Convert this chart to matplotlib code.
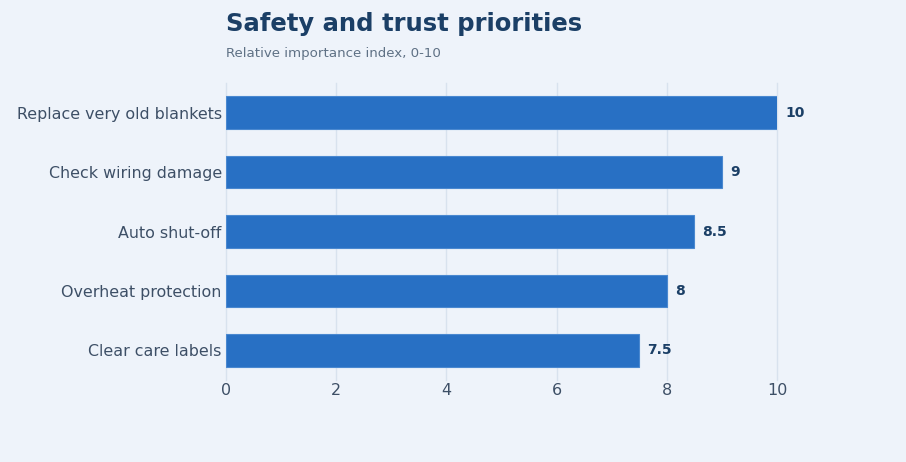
import matplotlib.pyplot as plt

# data
categories = ['Replace very old blankets', 'Check wiring damage', 'Auto shut-off',
              'Overheat protection', 'Clear care labels']
values = [10, 9, 8.5, 8, 7.5]
value_labels = ['10', '9', '8.5', '8', '7.5']
x_ticks = [0, 2, 4, 6, 8, 10]

bg = '#EEF3FA'
bar_color = '#2870C4'
dark = '#1B3F66'
tick_color = '#3D4F66'

fig = plt.figure(figsize=(9.06, 4.62), dpi=100, facecolor=bg)
ax = fig.add_axes([0.2494, 0.1775, 0.6082, 0.6428], facecolor=bg)

ypos = list(range(len(categories)))
ax.barh(ypos, values, height=0.55, color=bar_color, edgecolor='#4A88D0', linewidth=0.8, zorder=3)

for y, v, lab in zip(ypos, values, value_labels):
    ax.text(v + 0.15, y, lab, va='center', ha='left', fontsize=10, fontweight='bold', color=dark)

ax.set_yticks(ypos)
ax.set_yticklabels(categories, fontsize=11.4, color=tick_color)
ax.set_ylim(len(categories) - 0.5, -0.5)
ax.set_xlim(0, 10)
ax.set_xticks(x_ticks)
ax.set_xticklabels([str(t) for t in x_ticks], fontsize=11.5, color=tick_color)
ax.tick_params(axis='y', length=0, pad=3)
ax.tick_params(axis='x', length=0, pad=2)
ax.grid(axis='x', color='#D8E2EE', linewidth=1, zorder=0)
for gl in ax.get_xgridlines():
    gl.set_clip_on(False)
ax.set_axisbelow(True)
for s in ax.spines.values():
    s.set_visible(False)

fig.text(0.2494, 0.948, 'Safety and trust priorities', fontsize=17.5, fontweight='bold',
         color=dark, ha='left', va='center')
fig.text(0.2494, 0.885, 'Relative importance index, 0-10', fontsize=9.6, color='#5F7185',
         ha='left', va='center')

fig.savefig('out.png', dpi=100, facecolor=bg)
